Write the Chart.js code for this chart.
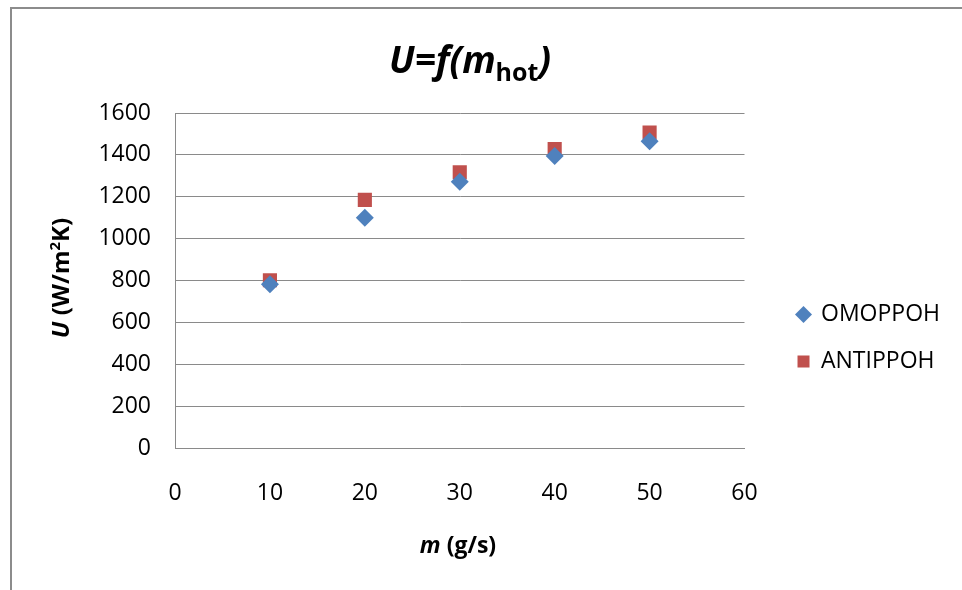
<!DOCTYPE html>
<html>
<head>
<meta charset="utf-8">
<script src="https://cdn.jsdelivr.net/npm/chart.js@4/dist/chart.umd.min.js"></script>
<style>
  html, body { margin: 0; padding: 0; background: #fff; overflow: hidden; }
  #wrap { width: 962px; height: 590px; }
</style>
</head>
<body>
<div id="wrap"><canvas id="uChart" width="962" height="590"></canvas></div>
<script>
// data
const massFlow = [10, 20, 30, 40, 50];
const uCoFlow = [782, 1100, 1272, 1395, 1465];      // OMOPPOH
const uCounterFlow = [801, 1185, 1317, 1428, 1507]; // ANTIPPOH
const seriesNames = ['OMOPPOH', 'ANTIPPOH'];
const xTicks = [0, 10, 20, 30, 40, 50, 60];
const yTicks = [0, 200, 400, 600, 800, 1000, 1200, 1400, 1600];

const FONT = "'Open Sans', 'Noto Sans', sans-serif";
const GRID = '#8a8a8a';

function toPoints(xs, ys) {
    return xs.map((x, i) => ({ x: x, y: ys[i] }));
}

// draw a line of text made of several runs (different fonts / sub / superscript)
function drawRuns(ctx, runs, cx, cy) {
    let total = 0;
    runs.forEach(r => {
        ctx.font = r.font;
        r.w = ctx.measureText(r.t).width;
        total += r.w;
    });
    let x = cx - total / 2;
    ctx.textBaseline = 'alphabetic';
    ctx.textAlign = 'left';
    runs.forEach(r => {
        ctx.font = r.font;
        ctx.fillText(r.t, x, cy + (r.dy || 0));
        x += r.w;
    });
}

const decorPlugin = {
    id: 'decor',
    beforeDraw(chart) {
        const ctx = chart.ctx;
        ctx.save();
        ctx.strokeStyle = '#8c8c8c';
        ctx.lineWidth = 2;
        ctx.beginPath();
        ctx.moveTo(11, 590);
        ctx.lineTo(11, 8);
        ctx.lineTo(962, 8);
        ctx.stroke();
        ctx.restore();
    },
    afterDraw(chart) {
        const ctx = chart.ctx;
        ctx.save();
        ctx.fillStyle = '#000';
        // chart title
        drawRuns(ctx, [
            { t: 'U=f(m', font: 'italic bold 37px ' + FONT },
            { t: 'hot', font: 'bold 25px ' + FONT, dy: 8 },
            { t: ')', font: 'italic bold 37px ' + FONT }
        ], 470, 73);
        // x axis title
        drawRuns(ctx, [
            { t: 'm', font: 'italic bold 23px ' + FONT },
            { t: ' (g/s)', font: 'bold 23px ' + FONT }
        ], 458, 553);
        // y axis title
        ctx.translate(69, 278);
        ctx.rotate(-Math.PI / 2);
        drawRuns(ctx, [
            { t: 'U', font: 'italic bold 24px ' + FONT },
            { t: ' (W/m', font: 'bold 24px ' + FONT },
            { t: '2', font: 'bold 15px ' + FONT, dy: -9 },
            { t: 'K)', font: 'bold 24px ' + FONT }
        ], 0, 0);
        ctx.restore();
    }
};

const ctx = document.getElementById('uChart').getContext('2d');
const uChart = new Chart(ctx, {
    type: 'scatter',
    data: {
        datasets: [{
            label: seriesNames[0],
            data: toPoints(massFlow, uCoFlow),
            pointStyle: 'rectRot',
            pointRadius: 9,
            pointHoverRadius: 9,
            backgroundColor: '#4F81BD',
            borderColor: '#4F81BD',
            borderWidth: 0
        }, {
            label: seriesNames[1],
            data: toPoints(massFlow, uCounterFlow),
            pointStyle: 'rect',
            pointRadius: 10,
            pointHoverRadius: 10,
            backgroundColor: '#C0504D',
            borderColor: '#C0504D',
            borderWidth: 0
        }]
    },
    options: {
        responsive: false,
        animation: false,
        layout: {
            padding: { top: 113, bottom: 27, left: 100, right: 12 }
        },
        plugins: {
            title: { display: false },
            tooltip: { enabled: false },
            legend: {
                position: 'right',
                maxWidth: 220,
                labels: {
                    usePointStyle: true,
                    boxWidth: 12,
                    boxHeight: 12,
                    padding: 24,
                    color: '#000',
                    font: { family: FONT, size: 23 }
                }
            }
        },
        scales: {
            x: {
                type: 'linear',
                min: xTicks[0],
                max: xTicks[xTicks.length - 1],
                afterBuildTicks: s => { s.ticks = xTicks.map(v => ({ value: v })); },
                afterFit: s => { s.height = 115; },
                grid: { display: false, drawTicks: false },
                border: { display: true, color: GRID, width: 1 },
                ticks: { padding: 32, color: '#000', font: { family: FONT, size: 23 } }
            },
            y: {
                min: yTicks[0],
                max: yTicks[yTicks.length - 1],
                afterBuildTicks: s => { s.ticks = yTicks.map(v => ({ value: v })); },
                afterFit: s => { s.width = 75; },
                grid: { color: GRID, lineWidth: 1, drawTicks: false },
                border: { display: true, color: GRID, width: 1 },
                ticks: {
                    padding: 24,
                    color: '#000',
                    font: { family: FONT, size: 23 },
                    callback: v => String(v)
                }
            },
            // empty spacer between the plot and the legend
            gap: {
                type: 'linear',
                position: 'right',
                afterFit: s => { s.width = 29; },
                grid: { display: false },
                border: { display: false },
                ticks: { display: false }
            }
        }
    },
    plugins: [decorPlugin]
});
</script>
</body>
</html>
